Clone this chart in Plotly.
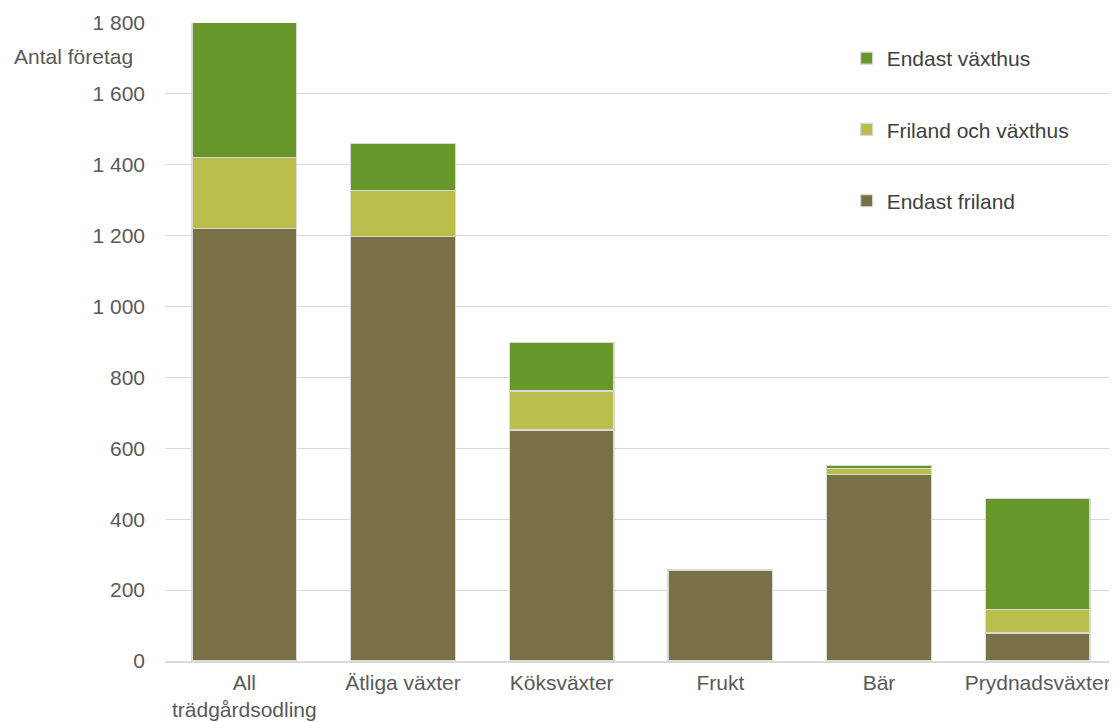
import plotly.graph_objects as go

categories = ["All<br>trädgårdsodling", "Ätliga växter", "Köksväxter", "Frukt", "Bär", "Prydnadsväxter"]
endast_friland = [1220, 1197, 652, 257, 527, 79]
friland_och_vaxthus = [200, 130, 110, 0, 15, 66]
endast_vaxthus = [383, 133, 136, 0, 9, 313]

tick_vals = [0, 200, 400, 600, 800, 1000, 1200, 1400, 1600, 1800]
tick_text = ["0", "200", "400", "600", "800", "1 000", "1 200", "1 400", "1 600", "1 800"]

series = [
    ("Endast friland", endast_friland, "#7A7046", 3),
    ("Friland och växthus", friland_och_vaxthus, "#B9BE4B", 2),
    ("Endast växthus", endast_vaxthus, "#67962A", 1),
]

font = dict(family="Liberation Sans, Arial, sans-serif", size=21, color="#595959")

fig = go.Figure()
for name, vals, col, rank in series:
    fig.add_trace(go.Bar(
        x=categories, y=vals, name=name, legendgroup=name, legendrank=rank,
        marker=dict(color=col, line=dict(color="#D9D9D9", width=1.2)),
    ))

# page body adds an 8px offset, so the figure is 8px smaller on each axis
W, H = 1109, 714
L, T, B, R = 157, 15, 61, 0
plot_h = H - T - B

fig.update_layout(
    width=W, height=H,
    barmode="stack", bargap=0.34,
    paper_bgcolor="white", plot_bgcolor="white",
    margin=dict(l=L, r=R, t=T, b=B),
    font=font,
    showlegend=True,
    legend=dict(
        x=0.716, y=1 - 15 / plot_h, xanchor="left", yanchor="top",
        traceorder="grouped", tracegroupgap=41,
        bgcolor="rgba(0,0,0,0)", font=dict(size=21, color="#404040"),
        itemwidth=30,
    ),
    xaxis=dict(
        showline=True, linecolor="#D9D9D9", linewidth=1.5,
        ticks="", tickfont=font, ticklabelstandoff=2, automargin=False,
    ),
    yaxis=dict(
        range=[0, 1800], tickvals=tick_vals, ticktext=tick_text,
        showgrid=True, gridcolor="#D9D9D9", gridwidth=1.2,
        zeroline=False, showline=False, ticks="",
        ticklabelstandoff=19, tickfont=font, automargin=False,
    ),
    annotations=[dict(
        text="Antal företag", xref="paper", yref="paper",
        x=-(L - 4) / (W - L - R), y=(653 - 49) / plot_h, xanchor="left", yanchor="middle",
        showarrow=False, font=font,
    )],
)

fig.write_html("out.html")
